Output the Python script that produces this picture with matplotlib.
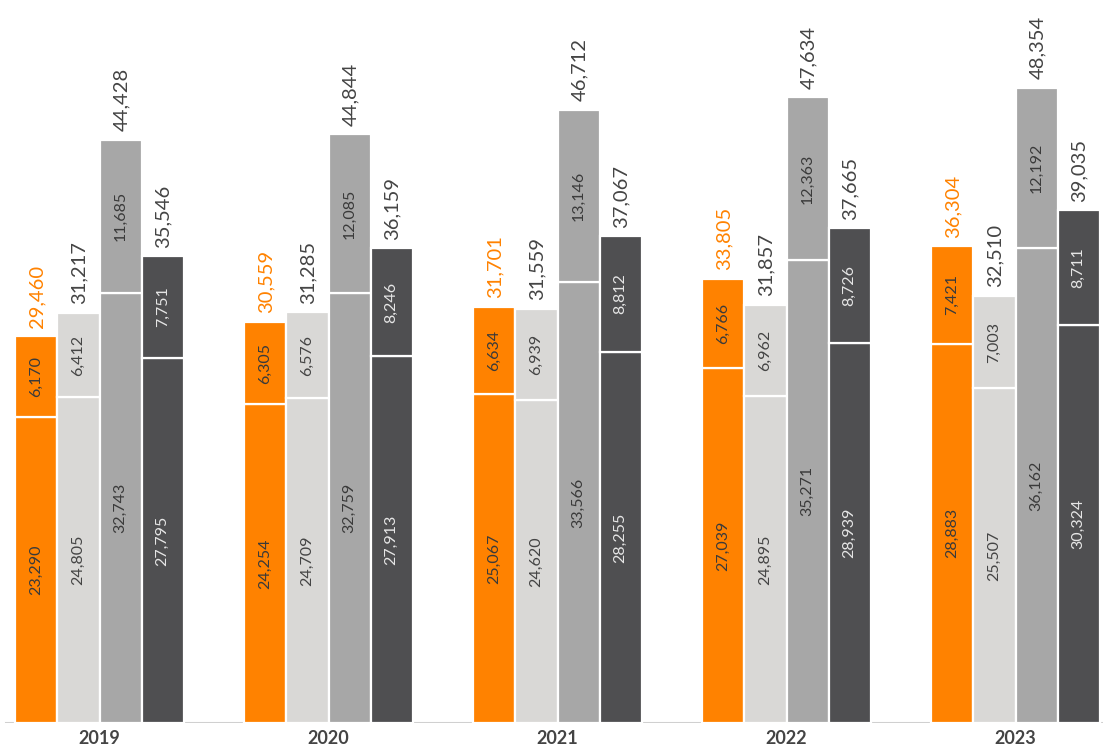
import numpy as np
import matplotlib
matplotlib.use("Agg")
import matplotlib.pyplot as plt

plt.rcParams['font.family'] = ['Lato', 'DejaVu Sans']

years = ['2019', '2020', '2021', '2022', '2023']

# 각 계열: (아래 구간, 위 구간)
orange_low = [23290, 24254, 25067, 27039, 28883]
orange_high = [6170, 6305, 6634, 6766, 7421]
light_low = [24805, 24709, 24620, 24895, 25507]
light_high = [6412, 6576, 6939, 6962, 7003]
mid_low = [32743, 32759, 33566, 35271, 36162]
mid_high = [11685, 12085, 13146, 12363, 12192]
dark_low = [27795, 27913, 28255, 28939, 30324]
dark_high = [7751, 8246, 8812, 8726, 8711]

series = [
    (orange_low, orange_high, '#FF8200', '#3a3a3a', '#FF8200'),
    (light_low, light_high, '#D9D8D6', '#444444', '#444444'),
    (mid_low, mid_high, '#A7A7A7', '#3a3a3a', '#444444'),
    (dark_low, dark_high, '#4F4F51', '#e6e6e6', '#444444'),
]

fig = plt.figure(figsize=(11.03, 7.49), dpi=100)
ax = fig.add_axes([0, 26 / 749, 1, 723 / 749])

x = np.arange(len(years))
step = 0.1835
offsets = [-1.5 * step, -0.5 * step, 0.5 * step, 1.5 * step]

for (low, high, color, inner_c, total_c), off in zip(series, offsets):
    low = np.array(low)
    high = np.array(high)
    ax.bar(x + off, low, width=step, color=color, edgecolor='white', linewidth=1.6)
    ax.bar(x + off, high, bottom=low, width=step, color=color, edgecolor='white', linewidth=1.6)
    for xi, lo, hi in zip(x + off, low, high):
        ax.text(xi, lo / 2, f"{lo:,}", rotation=90, ha='center', va='center',
                fontsize=11.5, color=inner_c)
        ax.text(xi, lo + hi / 2, f"{hi:,}", rotation=90, ha='center', va='center',
                fontsize=11.5, color=inner_c)
        ax.text(xi + 0.003, lo + hi + 650, f"{lo + hi:,}", rotation=90, ha='center',
                va='bottom', fontsize=14.5, color=total_c)

ax.set_xlim(-0.4345, 4.382)
ax.set_ylim(0, 55050)
ax.axhline(0, xmin=0.005, xmax=1, color='#d0d0d0', linewidth=2.2, zorder=0)

for s in ax.spines.values():
    s.set_visible(False)
ax.set_yticks([])
ax.set_xticks(x)
ax.set_xticklabels(years, fontsize=13, color='#444444', fontweight='bold')
ax.tick_params(axis='x', length=0, pad=5)

fig.savefig("out.png", dpi=100)
